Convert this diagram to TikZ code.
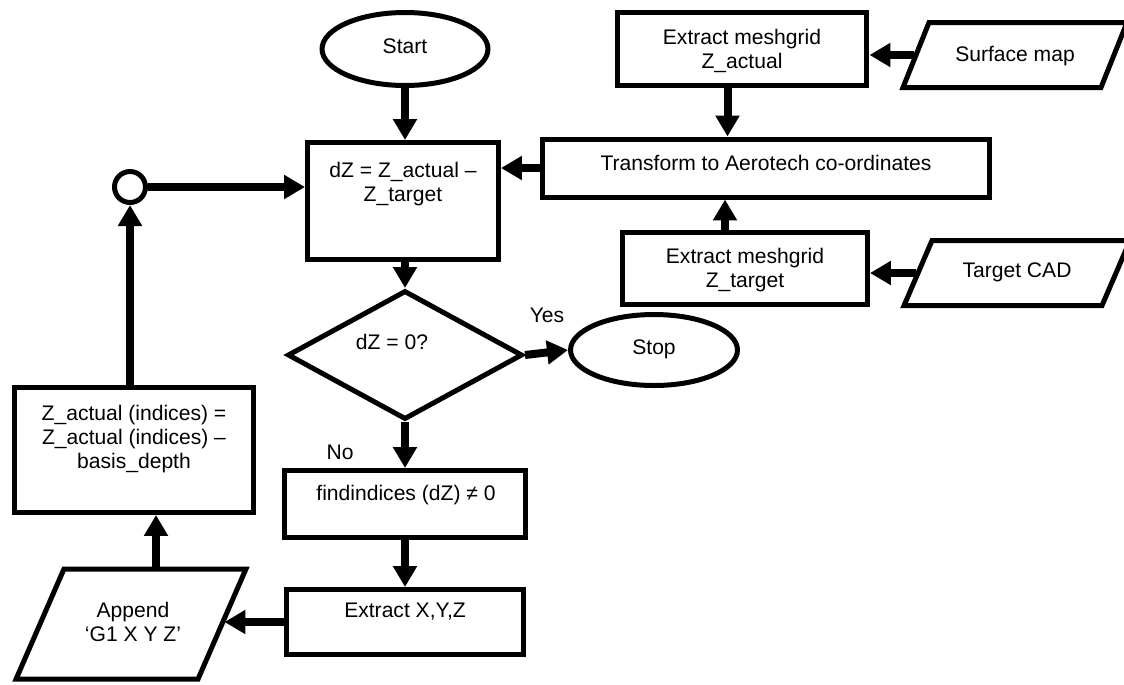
\documentclass[tikz,border=0pt]{standalone}
\usepackage{fontspec}
\setmainfont{Liberation Sans}
\usetikzlibrary{shapes.geometric,arrows.meta}
\begin{document}
\begin{tikzpicture}[x=0.02cm, y=-0.02cm,
        shp/.style={draw, line width=0.1cm, inner sep=0pt},
        box/.style={shp, rectangle},
        term/.style={shp, ellipse},
        io/.style={box, xslant=#1, transform shape},
        cond/.style={shp, diamond},
        txt/.style={align=center, inner sep=0pt, font=\fontsize{12}{13.6}\selectfont},
        arr/.style={line width=0.16cm, -{Triangle[length=0.42cm, width=0.46cm]}}]
        \useasboundingbox (0,0) rectangle (1124,684);

        %draw shapes by coordinates
        \node[term, minimum width=3.32cm, minimum height=1.46cm] (start) at (405,49) {};
        \node[box, minimum width=3.82cm, minimum height=2.34cm] (dz) at (403,201) {};
        \node[box, minimum width=5.0cm, minimum height=1.46cm] (ext1) at (742,49) {};
        \node[io=0.4, minimum width=3.96cm, minimum height=1.3cm] (surf) at (1015,55) {};
        \node[box, minimum width=8.96cm, minimum height=1.16cm] (trans) at (766,168) {};
        \node[box, minimum width=4.9cm, minimum height=1.44cm] (ext2) at (745,268) {};
        \node[io=0.43, minimum width=3.96cm, minimum height=1.3cm] (cad) at (1017,273) {};
        \node[cond, minimum width=4.7cm, minimum height=2.58cm] (dec) at (405,355) {};
        \node[term, minimum width=3.34cm, minimum height=1.42cm] (stop) at (654,350) {};
        \node[box, minimum width=4.84cm, minimum height=1.34cm] (find) at (405,504) {};
        \node[box, minimum width=4.74cm, minimum height=1.3cm] (exyz) at (405,622) {};
        \node[io=0.435, minimum width=3.64cm, minimum height=2.2cm] (app) at (131,624) {};
        \node[box, minimum width=4.78cm, minimum height=2.5cm] (upd) at (134,450) {};
        \node[shp, circle, minimum size=0.62cm] (junc) at (130,187) {};

        % texts
        \node[txt] (start-t) at (405,46) {Start};
        \node[txt] (dz-t) at (403,184) {dZ = Z\_actual --\\Z\_target};
        \node[txt] (ext1-t) at (742,51) {Extract meshgrid\\Z\_actual};
        \node[txt] (surf-t) at (1015,56) {Surface map};
        \node[txt] (trans-t) at (766,163) {Transform to Aerotech co-ordinates};
        \node[txt] (ext2-t) at (745,270) {Extract meshgrid\\Z\_target};
        \node[txt] (cad-t) at (1017,272) {Target CAD};
        \node[txt] (dec-t) at (392,342) {dZ = 0?};
        \node[txt] (stop-t) at (654,349) {Stop};
        \node[txt] (yes) at (547,315) {Yes};
        \node[txt] (no) at (340,452) {No};
        \node[txt] (find-t) at (406,495) {findindices (dZ) ≠ 0};
        \node[txt] (exyz-t) at (405,612) {Extract X,Y,Z};
        \node[txt] (app-t) at (133,622) {Append\\‘G1 X Y Z’};
        \node[txt] (upd-t) at (134,439) {Z\_actual (indices) =\\Z\_actual (indices) --\\basis\_depth};

        % Draw arrows
        \draw[arr] (start) -- (start |- dz.north);
        \draw[arr] (surf.west) -- (surf.west -| ext1.east);
        \draw[arr] ([xshift=-0.29cm]ext1.south) -- ([xshift=-0.29cm]ext1.south |- trans.north);
        \draw[arr] ([xshift=-0.4cm]ext2.north) -- ([xshift=-0.4cm]ext2.north |- trans.south);
        \draw[arr] (cad.west) -- (cad.west -| ext2.east);
        \draw[arr] (trans.west) -- (trans.west -| dz.east);
        \draw[arr] (dz.south -| dec) -- (dec.north);
        \draw[arr] (dec.east) -- (stop.west);
        \draw[arr] (dec.south) -- (find.north);
        \draw[arr] (find.south) -- (exyz.north);
        \draw[arr] (exyz.west) -- (exyz.west -| app.east);
        \draw[arr] (app.north) -- (app.north |- upd.south);
        \draw[arr] (upd.north -| junc) -- (junc.south);
        \draw[arr] (junc.east) -- (junc.east -| dz.west);
    \end{tikzpicture}
\end{document}
